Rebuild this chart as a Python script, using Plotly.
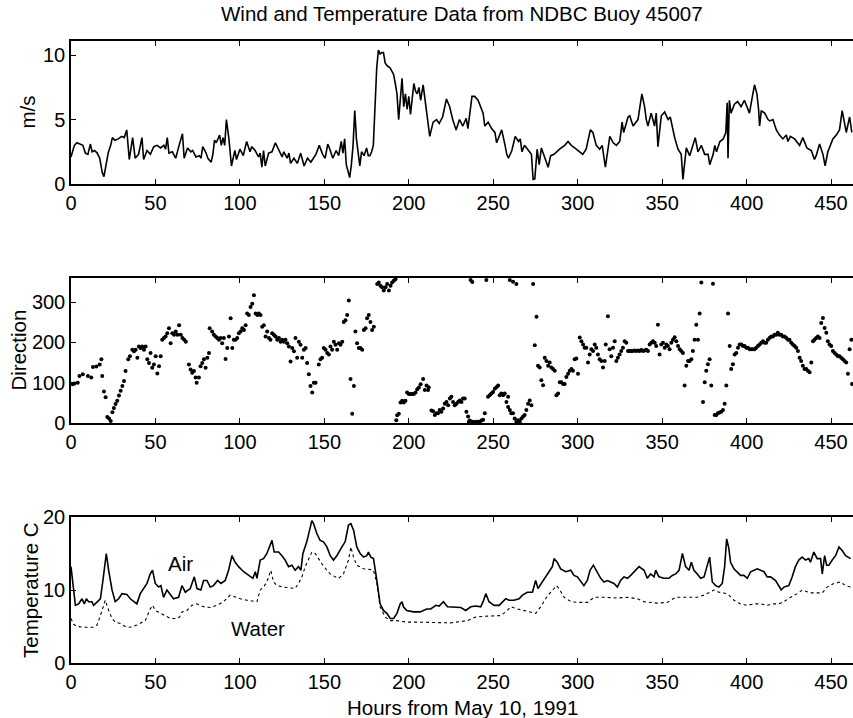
import plotly.graph_objects as go

# ---------------- data ----------------
speed_hours = [0,2,3.5,6,7,8.5,10,11.5,12.5,14,15.5,17,18.5,19.5,21,22,23.5,24.5,26,28,30,31.5,33,34.5,36.5,38,40,42,43,45,47,49,51,53,55,56,57,58,60,62,64,66,67,69,71,72,74,76,77,78,80,81,83,84,85,86,88,89,90,91,92,93.5,95,97,98,100,102,104,106,107,109,111,112,113,114,115,117,119,121,123,125,126,128,129,130,132,134,136,138,140,142,143.5,145,147,149,150.5,152,153,155,157,158.5,160,161,162,163,165,166,167,168,169,170,171,172,173.5,175,176,177,178,179,180,181,182,183,184,185,186,187,189,191,192,193,194,195,196,197,198,199,200,201,203,204,205,206,207,208.5,210,211,212.4,214.4,216.4,218,220,222.3,224.2,226,228,230,232,234,235,237.4,239,241,243,244,245,247,249,251,252,254,255,257,258,259,261,263,265,266,267,268.5,270.5,272.6,273.6,274.6,276,277.2,278.5,280.5,282.5,284,286,289.3,292.3,294.3,296.2,298.2,301,303,305,307.5,309,311,313,314.5,316.4,318,319,321,322.9,324.9,326.3,327.2,329.8,330.8,332.8,335.7,338,339.6,340.6,341.6,343.5,345.5,346.5,347.5,349.5,351.5,353.5,354.8,357.4,359.4,361.3,362.3,364.3,366.3,369.6,371.2,373.2,375.2,377.2,378.2,380.2,381.2,382.2,384.2,386.2,387.7,388.5,389.0,389.8,390.8,392.8,394.7,396.7,398.7,401.7,403.7,404.7,406.1,407.1,407.7,408.7,410.7,412.7,413.7,415.6,417.6,419.5,421.5,423.5,424.5,425.9,428.4,431.4,433.3,435.7,438.3,440.2,441.2,443.2,445.2,446.5,448.1,451.1,453.1,455.0,456.6,458.0,459.0,461.0,462.3]
speed_ms = [2.1,3.0,3.2,3.1,3.0,2.4,2.3,3.1,2.5,2.6,2.4,2.0,0.9,0.57,1.6,2.4,3.0,3.6,3.4,3.5,3.7,3.6,4.2,1.9,3.6,2.0,2.3,3.6,1.9,2.6,2.3,2.9,3.0,2.8,3.0,2.7,3.6,2.4,2.5,2.0,3.0,3.9,2.0,2.8,2.5,2.6,2.1,2.2,2.0,2.9,2.4,2.0,1.7,2.3,3.4,3.2,3.8,3.0,3.6,3.0,5.0,3.5,1.4,2.6,1.9,2.7,2.2,3.3,2.5,2.9,2.6,2.1,2.4,1.3,2.6,1.4,2.4,2.5,3.2,2.6,2.1,2.5,2.0,2.4,1.6,2.0,1.6,2.4,1.4,2.0,1.7,2.0,2.3,3.0,2.3,2.0,3.1,2.8,2.0,2.6,2.2,3.3,2.4,3.5,1.5,0.5,1.5,3.0,5.7,3.5,2.5,1.4,2.5,2.2,2.8,2.2,2.2,2.5,3.0,6.0,9.0,10.4,10.1,10.2,10.2,9.4,9.2,9.0,8.5,7.8,7.0,5.0,6.5,8.2,6.0,7.0,5.8,6.8,5.4,7.8,7.2,7.0,7.5,6.5,7.7,6.0,5.0,3.7,4.8,5.0,4.7,5.2,6.6,6.0,5.0,4.2,5.0,4.5,5.1,4.3,6.8,6.8,6.5,5.8,5.5,4.5,4.8,4.3,4.0,3.2,3.8,4.2,3.0,2.3,2.0,2.6,3.7,3.3,3.5,2.5,3.0,2.7,2.3,0.35,0.4,2.7,1.5,2.8,2.0,1.3,2.2,2.3,2.7,3.0,3.3,3.0,2.8,2.5,2.3,2.7,4.2,4.0,3.0,2.7,3.0,1.3,2.8,3.7,3.2,3.0,3.3,4.8,4.0,5.2,5.3,4.5,5.0,7.0,6.0,5.0,4.5,5.5,4.5,5.5,2.9,5.3,5.6,5.0,5.2,3.6,2.7,2.3,0.35,2.8,2.2,3.6,2.5,3.0,2.3,2.3,1.5,2.3,3.0,2.5,3.3,3.5,4.0,6.3,2.0,6.5,5.5,6.2,6.4,6.0,6.5,5.5,7.0,7.7,7.0,5.8,4.5,5.7,5.5,5.0,4.9,5.0,4.2,3.8,3.5,3.8,3.3,3.7,3.5,3.0,3.6,2.8,2.6,1.9,2.2,3.1,2.3,1.4,2.5,3.5,3.8,4.2,5.7,4.6,4.0,5.2,4.0]

dir_hours = [1,2,4,5,7,10,12,13,15,17,18,18.5,19.5,20.5,21.5,22.5,23.5,24.5,25.4,26.4,27.4,28.4,29.4,30.4,31.4,32.3,33.9,34.9,36.3,37.3,38.3,39.3,40.2,41.2,42.2,43.2,44.2,45.2,46.2,47.1,48.1,49.1,50.1,51.1,52.1,53.1,54,55,56,57,58,59,60,61,62,63,64,65,66,67,68,69.8,70.8,71.8,72.8,73.8,74.4,75.7,76.7,77.7,78.7,79.7,80.7,81.7,82.1,83.6,84.6,85.6,86.6,87.6,88.6,89.5,90.5,91.5,92.5,93.5,94.5,95.5,96.4,97.4,98.4,99.4,100.4,101.4,102.4,103.4,104.3,105.3,106.3,107.3,108.3,109.3,110.3,111.2,112.2,113.2,114.2,115.2,116.2,117.2,118.1,119.1,120.1,121.1,122.1,123.1,124.1,125,126,127,128,129,130,131,132,132.9,133.9,134.9,135.9,136.9,137.9,138.9,139.8,140.8,141.8,142.8,143.8,144.8,146.7,147.7,148.7,149.7,150.7,151.7,152.7,153.6,154.6,155.6,156.6,157.6,158.6,159.6,160.6,161.5,162.5,163.5,164.5,165.5,166.5,167.5,168.4,169.4,170.4,171.4,172.4,173.4,174.4,175.3,176.3,177.3,178.3,179.3,181.3,182.2,183.2,184.2,185.2,186.2,187.2,188.2,189.2,190.1,191.1,192.1,192.6,193.1,194.1,195.1,196.1,197,198,199,200,201,202,203,204,205,206,207,208.5,209.5,210.5,211.4,211.8,213.4,214.4,215.4,216.4,217.3,218.3,219.3,220.3,221.3,222.3,223.3,224.3,225.2,226.2,227.2,228.2,229.2,230.2,231.2,232.1,233.1,234.1,235.1,236.1,237.1,238.1,239.1,240,241,242,243,244,245,235.6,236.6,237.6,245.9,246.9,247.9,248.9,249.9,250.9,251.9,252.9,253.8,254.8,255.8,256.8,257.8,258.8,259.8,260.7,261.7,262.7,263.7,264.7,265.7,266.7,267.7,268.6,269.6,270.6,271.6,272.6,258.8,259.8,261.7,263.7,273.6,274.6,275.6,276.5,277.5,278.5,279.5,280.5,281.5,282.5,283.4,284.4,285.4,286.4,287.4,288.4,289.4,290.3,291.3,292.3,293.3,294.3,295.3,296.3,297.2,298.2,299.2,300.2,301.2,302.2,303.2,304.1,305.1,306.1,307.1,308.1,309.1,310.1,311,312,313,314,315,316,316.6,317.9,318.9,319.9,320.9,321.9,322.9,323.8,324.8,325.8,326.8,327.8,328.8,329.8,330.8,331.7,332.7,333.7,334.7,335.7,336.7,337.7,338.7,339.6,340.6,341.6,342.6,343.6,344.6,345.6,346.5,347.5,348.5,349.5,350.5,351.5,352.5,353.4,354.4,355.4,356.4,357.4,358.4,359.4,360.4,361.3,362.3,363.3,364.3,365.3,366.3,367.3,368.2,369.2,370.2,371.2,372.2,373.2,374.2,375.2,376.1,377.1,378.1,379.1,380.1,381.1,382.1,383,384,385,386,387,388,389,390,390.9,391.9,392.9,393.9,394.9,395.9,396.9,397.9,398.8,399.8,400.8,401.8,402.8,403.7,404.7,405.7,406.7,407.7,408.7,409.7,410.7,411.6,412.6,413.6,414.6,415.6,416.6,417.6,418.5,419.5,420.5,421.5,422.5,423.5,424.5,425.4,426.4,427.4,428.4,429.4,430.4,431.4,432.3,433.3,434.3,435.3,436.3,437.3,438.3,439.3,440.2,441.2,442.2,443.2,444.2,445.2,446.2,447.2,448.1,449.1,450.1,451.1,452.1,453.1,454.1,455,456,457,458,459,460,461,462,462.4]
dir_deg = [96,98,100,117,121,117,113,139,140,145,158,117,78,64,15,11,5,27,37,47,55,68,80,92,104,129,158,166,182,178,182,162,190,186,190,182,190,158,149,174,137,145,166,123,141,166,207,211,215,223,235,198,223,219,227,219,243,219,211,207,202,145,133,125,129,113,100,113,141,149,158,137,162,174,235,227,219,215,211,207,211,198,211,159,186,215,260,186,207,207,211,223,227,235,231,243,272,268,288,296,317,272,268,272,268,239,243,215,227,211,207,223,219,215,207,211,202,207,202,207,198,190,153,186,178,211,162,202,194,162,182,186,149,121,92,76,100,100,145,158,162,186,182,174,170,190,182,202,194,182,198,194,202,251,255,268,304,109,23,92,227,198,186,186,182,231,235,260,268,251,231,239,345,349,341,337,329,337,345,329,341,349,353,357,7,19,23,51,55,51,55,76,72,72,72,72,76,84,88,96,109,82,93,82,89,31,29,20,24,24,32,28,36,48,52,44,61,65,52,44,48,52,56,52,61,61,28,16,6,3,3,1,3,3,3,6,8,24,3,355,350,355,65,69,73,77,85,89,93,69,73,69,73,52,65,32,24,24,11,3,7,3,11,16,20,32,48,56,44,40,355,351,345,345,193,264,142,138,106,94,162,154,142,150,138,134,130,69,73,101,101,97,97,114,122,130,134,130,158,160,122,212,203,195,187,187,150,170,183,179,195,187,170,158,154,138,154,195,265,183,166,187,203,154,162,170,179,187,203,199,179,179,179,179,180,179,180,179,181,179,180,182,179,195,199,203,199,191,244,170,195,199,187,195,191,183,199,207,213,203,191,183,179,174,93,142,154,154,158,179,207,244,207,272,349,52,101,130,146,158,93,346,20,20,24,26,28,32,48,93,272,191,134,146,170,174,187,195,195,191,191,187,187,183,183,183,183,187,191,195,199,203,199,199,207,211,215,215,219,219,224,219,219,215,215,211,207,207,199,195,191,187,179,162,154,142,134,134,130,126,150,203,207,211,215,211,248,261,236,224,203,195,191,179,174,170,166,166,162,158,154,150,122,183,207,97,300]

air_hours = [0,1.2,2.6,4.5,6.5,7.9,9.1,10.4,12.4,13.4,15.4,17.4,18.9,20.9,22.3,24.3,26.2,28.2,30.2,33.1,35.1,37.1,39,41,43,45,46.9,48.3,49.9,51.9,53.2,54.8,56.8,58.8,60.7,63.7,65.7,67.7,70.6,73,74.6,76.9,78.5,80.5,82.4,84.4,86.8,88.8,91.3,93.3,95.3,97.2,99.2,102.2,105.1,107.7,109.1,110.1,112,114,116,117.6,119,120.3,122.9,124.9,126.8,128.8,130.8,132.7,134.7,136.1,137.3,139.6,142.6,143.6,145.6,147.5,149.5,151.5,153.5,155.4,157.4,160.4,162.3,164.3,165.7,167.3,169.2,171.2,173.2,175.1,176.1,177.5,179.1,181.1,183,185,187,189,191,193,194.9,196,196.8,198.8,202.8,206.7,208.7,210.6,213,216,218,220.5,222.9,226.8,230.8,233.7,236.7,239.6,242.6,244,245.6,247.5,250.5,253.5,255.4,257.4,259.4,262.3,265.3,267.3,270.2,273.2,275.1,276.5,279,282,285,286,287.9,289.9,292.9,295.9,297.8,299.8,301.8,303.7,305.7,307.3,309.3,311.7,313.6,315.6,317.6,319.5,321.5,323.5,325.4,327.4,329.4,331.4,334.3,336.3,339.3,341.2,343.2,345.2,346.2,348.1,351.1,354,356,358,360,362,363.9,365.9,367.3,368.8,370.8,372.8,374.8,376.7,378.1,379.7,381.7,383.6,385.6,387,388.2,389.5,390.5,392.5,394.5,396.4,398.4,400.4,402.4,404.3,406.3,408.3,410.3,412.2,414.2,417.2,419.1,420.5,422.1,425,427,428.9,430.9,432.9,434.9,436.8,437.8,439.8,441.8,443.8,444.8,446.2,447.4,448.7,450.7,452.7,454.7,456.6,458.6,460.6,461.6]
air_temp = [13.2,10.4,7.9,8.1,8.8,8.1,8.8,8.4,8.4,7.9,8.4,8.8,11.3,15.0,12.7,10.0,8.4,8.8,9.5,9.4,8.8,8.4,8.1,9.5,10.2,10.9,12.2,12.7,10.9,10.4,10.6,9.0,10.0,9.3,8.8,9.0,10.6,9.7,10.2,11.8,10.2,10.0,11.3,11.3,10.4,10.6,11.3,10.9,11.3,12.7,14.7,13.8,13.2,12.5,12.0,11.6,12.5,11.6,14.1,14.3,15.0,16.1,16.8,15.2,15.2,14.7,14.1,13.2,13.4,12.7,13.2,12.7,15.0,16.6,19.5,19.1,17.7,16.8,16.6,15.9,14.7,14.1,14.7,15.9,16.6,18.9,19.1,18.2,15.9,15.0,14.5,14.7,15.2,14.5,14.3,11.3,8.1,7.2,6.8,6.1,6.1,6.8,8.1,8.4,7.7,7.2,7.0,7.0,7.2,7.4,7.4,7.9,7.8,8.4,7.7,7.6,7.6,7.2,7.7,7.8,7.7,8.4,9.5,8.4,7.9,7.9,8.4,8.8,8.6,8.6,8.8,9.3,9.7,9.7,11.3,10.2,11.1,12.2,13.2,14.3,13.8,12.9,12.5,12.7,12.0,11.8,11.1,10.6,11.3,12.7,13.4,12.5,11.6,11.1,11.3,11.1,10.9,10.4,11.3,11.8,11.6,12.0,12.7,13.2,12.7,11.6,12.2,11.8,12.7,11.8,11.6,11.6,12.0,12.2,12.7,15.0,13.2,12.7,13.8,12.7,12.2,11.6,11.8,13.2,14.5,11.1,10.6,10.4,10.9,13.2,17.0,15.7,13.8,12.9,12.5,12.0,12.0,11.6,12.5,12.7,12.9,12.7,12.5,11.8,11.8,11.3,10.6,10.0,10.4,10.6,11.8,13.2,14.1,14.5,14.1,14.3,13.8,15.2,14.3,14.3,12.2,14.7,13.4,13.4,14.1,14.7,15.9,15.4,14.7,14.5,14.3]

water_hours = [0,1.6,3.6,7.5,13.4,15.4,17.4,18.9,20.3,22.3,24.3,26.2,29.2,32.1,35.1,39,41,44,46.9,48.3,49.9,52.9,55.8,58.8,62.7,64.3,65.7,68.6,71.6,74.6,78.5,82.4,86.4,90.3,94.3,97.2,100.2,104.1,108.1,110.1,112,114,116,118.3,119.9,121.9,125.8,129.8,132.7,134.7,136.7,138.7,140.6,142.6,144.6,146.5,148.5,151.5,153.5,156.4,158.4,161.3,164.3,165.7,167.3,169.2,171.2,173.2,177.1,179.1,181.1,183,186,189,193,198.8,204.7,215,224.9,234.7,239.6,244.6,254.4,257.4,260.4,264.4,268.3,272.3,275.1,278.1,281,284,287.5,288.9,292,296,300,305.7,309.7,315.6,323.5,329.4,335.3,339.3,347.1,353,358,362.9,370.8,374.8,377.7,380.7,383.6,386.6,389.5,392.5,396.4,400.4,404.3,408.3,412.2,416.2,419.1,422.1,426,430,433,437.9,444.8,447.7,451.7,455.6,458.5,461.6]
water_temp = [6.1,5.3,5.0,4.9,4.9,5.2,6.5,7.7,8.6,7.2,6.1,5.6,5.4,5.0,4.9,5.2,5.4,5.8,7.4,7.9,7.2,6.8,6.5,6.1,6.1,6.3,7.0,7.2,7.9,8.1,7.7,7.6,7.9,8.4,9.3,9.0,8.8,8.6,8.4,8.4,10.0,10.4,11.1,12.7,11.1,10.6,10.4,10.3,10.2,10.9,11.8,13.2,14.1,15.2,15.0,14.3,13.6,12.7,12.2,11.8,11.6,12.2,14.1,15.9,14.5,13.4,13.2,12.9,12.8,12.7,10.9,7.7,6.3,5.8,5.8,5.6,5.6,5.5,5.5,5.8,6.3,6.4,6.5,7.0,7.7,7.4,7.2,7.0,6.8,7.7,8.8,9.7,10.6,10.2,9.0,8.4,8.3,8.3,9.0,9.0,8.9,9.0,8.8,8.4,8.2,8.3,9.0,9.0,9.0,9.3,9.7,10.0,9.7,9.6,9.3,8.6,8.1,7.9,8.1,8.1,7.9,8.1,8.1,8.4,9.0,9.5,10.0,9.6,9.6,10.4,10.9,11.1,10.6,10.4]

title_text = "Wind and Temperature Data from NDBC Buoy 45007"
x_title = "Hours from May 10, 1991"
y_titles = ["m/s", "Direction", "Temperature C"]
x_ticks = [0, 50, 100, 150, 200, 250, 300, 350, 400, 450]
y_ticks = [[0, 5, 10], [0, 100, 200, 300], [0, 10, 20]]
y_ranges = [[0, 11.1], [0, 360], [0, 20]]
label_air = ("Air", 65, 13.6)
label_water = ("Water", 111, 4.7)

# ---------------- figure ----------------
FONT = "Liberation Sans, Arial, Helvetica, sans-serif"
TICK_SIZE = 20
TEXT_SIZE = 20.5
W, H = 853, 718
ML, MR, MT, MB = 71, 0, 41, 55
ph = H - MT - MB

def dom(top_px, bot_px):
    return [(H - MB - bot_px) / ph, (H - MB - top_px) / ph]

domains = [dom(41, 184), dom(278, 423), dom(517, 663)]

fig = go.Figure()
fig.add_trace(go.Scatter(x=speed_hours, y=speed_ms, mode="lines",
                         line=dict(color="black", width=1.6),
                         xaxis="x", yaxis="y", showlegend=False))
fig.add_trace(go.Scatter(x=dir_hours, y=dir_deg, mode="markers",
                         marker=dict(color="black", size=4),
                         xaxis="x2", yaxis="y2", showlegend=False))
fig.add_trace(go.Scatter(x=air_hours, y=air_temp, mode="lines",
                         line=dict(color="black", width=1.6),
                         xaxis="x3", yaxis="y3", showlegend=False))
fig.add_trace(go.Scatter(x=water_hours, y=water_temp, mode="lines",
                         line=dict(color="black", width=1.1, dash="dot"),
                         xaxis="x3", yaxis="y3", showlegend=False))

axis_common = dict(showgrid=False, zeroline=False, showline=True, linecolor="black",
                   linewidth=1.5, ticks="inside", ticklen=5, tickwidth=1.2,
                   tickcolor="black",
                   tickfont=dict(family=FONT, size=TICK_SIZE, color="black"))

layout = dict(width=W, height=H, margin=dict(l=ML, r=MR, t=MT, b=MB),
              paper_bgcolor="white", plot_bgcolor="white",
              font=dict(family=FONT, color="black"))
for i in range(3):
    sx = "" if i == 0 else str(i + 1)
    layout["xaxis" + sx] = dict(axis_common, domain=[0, 1], range=[0, 463],
                                tickmode="array", tickvals=x_ticks,
                                mirror="ticks", anchor="y" + sx,
                                ticklabelstandoff=0)
    layout["yaxis" + sx] = dict(axis_common, domain=domains[i], range=y_ranges[i],
                                tickmode="array", tickvals=y_ticks[i],
                                mirror=False, anchor="x" + sx)
fig.update_layout(**layout)

annots = []
annots.append(dict(text=title_text, xref="paper", yref="paper", x=0.5, y=1,
                   xanchor="center", yanchor="middle", yshift=28, showarrow=False,
                   font=dict(family=FONT, size=TEXT_SIZE)))
annots.append(dict(text=x_title, xref="paper", yref="paper", x=0.5, y=0,
                   xanchor="center", yanchor="middle", yshift=-44, showarrow=False,
                   font=dict(family=FONT, size=TEXT_SIZE)))
ytitle_x = [-44, -53, -41]
for i, t in enumerate(y_titles):
    annots.append(dict(text=t, xref="paper", yref="paper", x=0,
                       y=(domains[i][0] + domains[i][1]) / 2, xshift=ytitle_x[i],
                       xanchor="center", yanchor="middle",
                       textangle=-90, showarrow=False,
                       font=dict(family=FONT, size=TEXT_SIZE)))
for txt, hx, ty in (label_air, label_water):
    annots.append(dict(text=txt, x=hx, y=ty, xref="x3", yref="y3",
                       xanchor="center", yanchor="middle",
                       showarrow=False, font=dict(family=FONT, size=TEXT_SIZE)))
fig.update_layout(annotations=annots)

fig.write_html("out.html")
